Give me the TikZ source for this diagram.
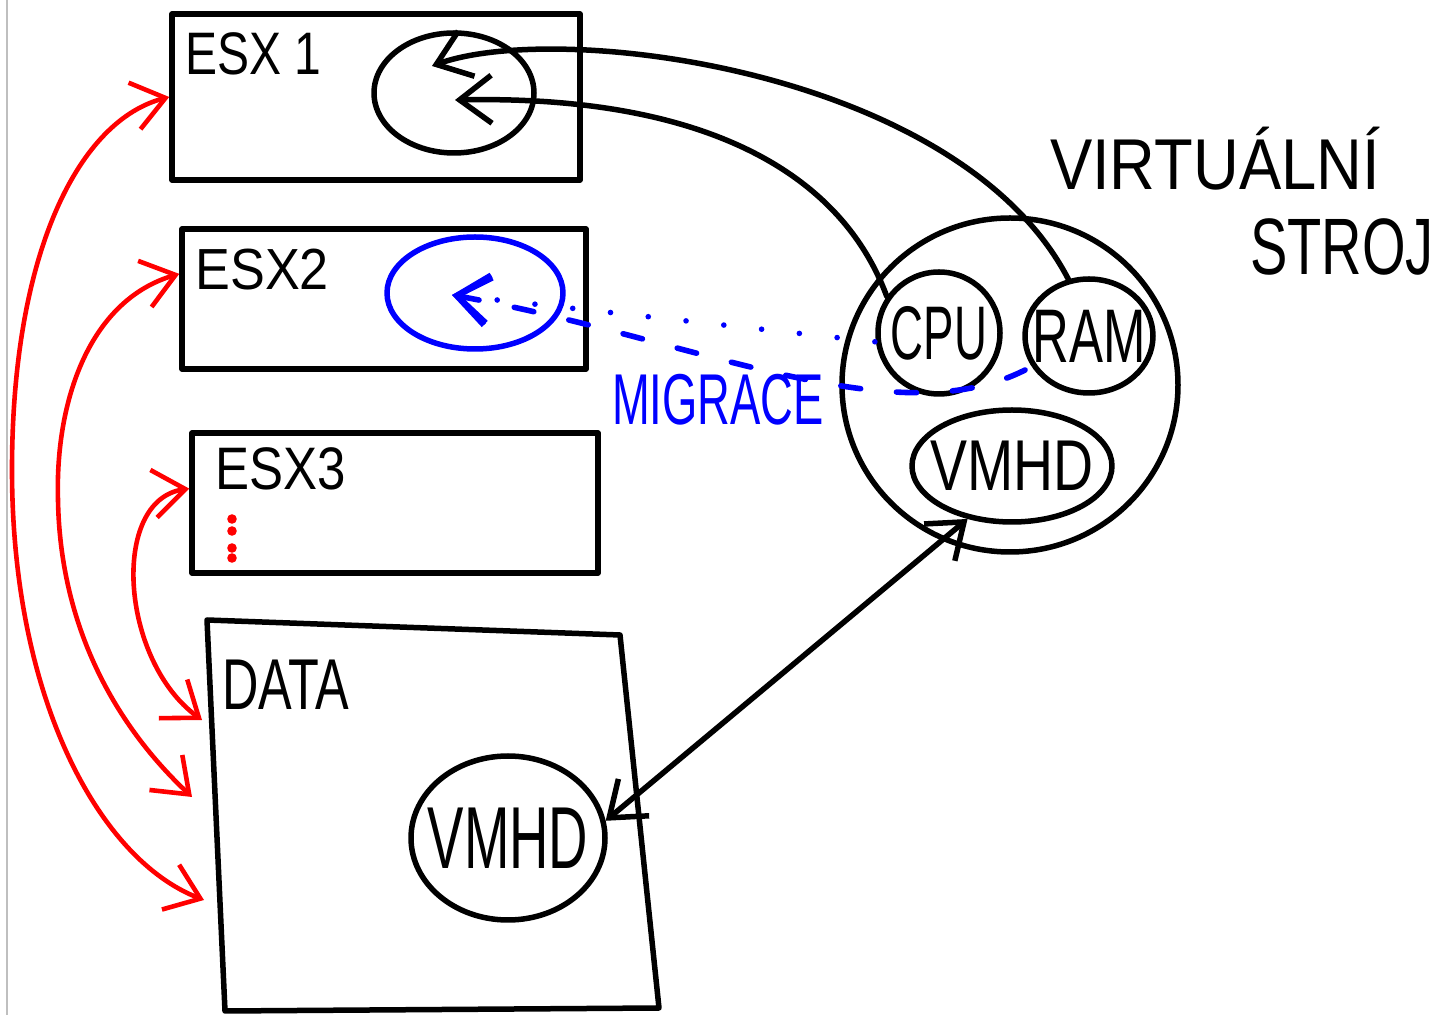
\documentclass[tikz,border=0pt]{standalone}
\usepackage{fontspec}
\setmainfont{Liberation Sans}
\usetikzlibrary{shapes.geometric, arrows.meta, positioning}

\newcommand{\hw}[2]{\scalebox{#1}[1]{#2}}

\tikzset{
	box/.style={draw, rectangle, line width=2.75pt, inner sep=0pt},
	disk/.style={draw, ellipse, line width=2.75pt, inner sep=0pt},
	lbl/.style={inner sep=0pt, font=\fontsize{#1pt}{#1pt}\selectfont},
	link/.style={line width=2.75pt},
	move/.style={red, line width=2.3pt, <->},
	mig/.style={blue, line width=2.8pt}
}

\begin{document}
\begin{tikzpicture}[x=0.5pt, y=-0.5pt, line cap=round, line join=round,
	>={Straight Barb[length=16pt,width=24pt]}]
	\useasboundingbox (0,0) rectangle (1453,1015);
	\draw[gray!50, line width=0.8pt] (7,0) -- (7,1015);

	% hosts
	\node[box, minimum width=204pt, minimum height=83pt] (esx1) at (376,97) {};
	\node[box, minimum width=202pt, minimum height=70pt] (esx2) at (384,299) {};
	\node[box, minimum width=203pt, minimum height=70pt] (esx3) at (395,503) {};
	\node[lbl=30, anchor=base west] (esx1t) at (185,75) {\hw{0.8}{ESX 1}};
	\node[lbl=29, anchor=base west] (esx2t) at (195,290) {\hw{0.9}{ESX2}};
	\node[lbl=30, anchor=base west] (esx3t) at (215,490) {\hw{0.85}{ESX3}};
	\foreach \y in {519,531,548,558}{
		\fill[red] (232,\y) circle (2.4pt);
	}

	% storage
	\coordinate (dnw) at (207,620);
	\coordinate (dne) at (620,635);
	\coordinate (dse) at (659,1008);
	\coordinate (dsw) at (225,1011);
	\draw[link] (dnw) -- (dne) -- (dse) -- (dsw) -- cycle;
	\node[lbl=36, anchor=base west] (datat) at (222,710) {\hw{0.7}{DATA}};

	% running vm
	\node[disk, minimum width=80pt, minimum height=60pt] (host1) at (454,93) {};
	\node[disk, blue, minimum width=88pt, minimum height=56pt] (host2) at (475,293) {};
	\node[disk, minimum width=168pt, minimum height=167pt] (vm) at (1010,385) {};
	\node[disk, minimum width=61pt, minimum height=61pt] (cpu) at (939,333) {};
	\node[disk, minimum width=64pt, minimum height=57pt] (ram) at (1089,336) {};
	\node[disk, minimum width=100pt, minimum height=56pt] (vmhd) at (1012,466) {};
	\node[disk, minimum width=97pt, minimum height=82pt] (disk) at (508,838) {};
	\node[lbl=38] (cput) at (cpu) {\hw{0.6}{CPU}};
	\node[lbl=38] (ramt) at (ram) {\hw{0.67}{RAM}};
	\node[lbl=36] (vmhdt) at (vmhd) {\hw{0.77}{VMHD}};
	\node[lbl=44] (diskt) at (disk) {\hw{0.62}{VMHD}};
	\node[lbl=36, anchor=base] (vmt1) at (1215,190) {\hw{0.88}{VIRTUÁLNÍ}};
	\node[lbl=40, anchor=base] (vmt2) at (1342,275) {\hw{0.7}{STROJ}};

	% cpu and ram run on ESX 1
	\coordinate (tipA) at (432,66);
	\coordinate (tipB) at (455,100);
	\draw[link, ->] (ram.110) .. controls (960,70) and (560,20) .. (tipA);
	\draw[link, ->] (cpu.145) .. controls (840,170) and (700,95) .. (tipB);
	\draw[link, <->] (vmhd.230) -- (disk.10);

	% migration
	\coordinate (migtip) at (452,295);
	\draw[mig, dash pattern=on 0pt off 19pt, <-] (migtip) -- (cpu.188);
	\draw[mig, dash pattern=on 10pt off 18pt, <-] (migtip) .. controls (700,340) and (900,440) .. (ram.208);
	\node[lbl=36, blue] (migt) at (718,400) {\hw{0.63}{MIGRACE}};

	% hosts reach the storage
	\coordinate (d1) at (202,720);
	\coordinate (d2) at (192,797);
	\coordinate (d3) at (204,900);
	\draw[move] (esx1.west) .. controls (80,120) and (12,250) .. (12,470)
		.. controls (12,700) and (100,860) .. (d3);
	\draw[move] (esx2.173) .. controls (90,300) and (55,400) .. (58,500)
		.. controls (60,620) and (110,720) .. (d2);
	\draw[move] (esx3.176) .. controls (110,500) and (120,660) .. (d1);
\end{tikzpicture}
\end{document}
